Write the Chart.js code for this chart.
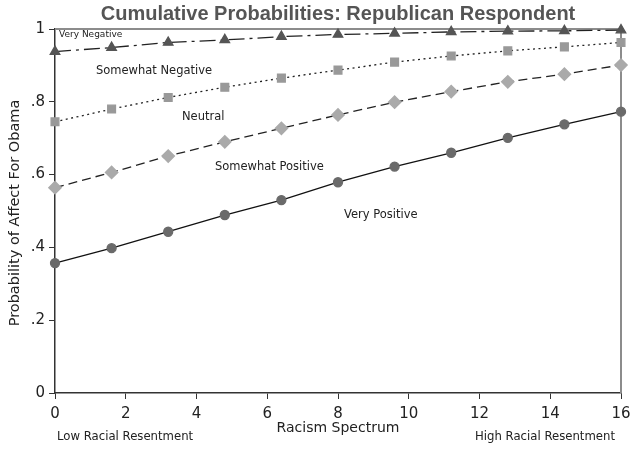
<!DOCTYPE html>
<html>
<head>
<meta charset="utf-8">
<script src="https://cdn.jsdelivr.net/npm/chart.js@4.4.0/dist/chart.umd.min.js"></script>
<style>
  html, body { margin: 0; padding: 0; background: #fff; }
  #wrap { width: 630px; height: 449px; }
</style>
</head>
<body>
<div id="wrap"><canvas id="probChart" width="630" height="449"></canvas></div>
<script>
// x positions along the racism spectrum
var racismSpectrum = [0, 1.6, 3.2, 4.8, 6.4, 8, 9.6, 11.2, 12.8, 14.4, 16];

// cumulative probabilities
var veryNegative     = [0.938, 0.949, 0.963, 0.970, 0.979, 0.985, 0.988, 0.992, 0.994, 0.995, 0.997];
var somewhatNegative = [0.745, 0.780, 0.812, 0.840, 0.865, 0.887, 0.909, 0.926, 0.940, 0.951, 0.963];
var neutral          = [0.564, 0.606, 0.651, 0.690, 0.727, 0.764, 0.799, 0.828, 0.855, 0.876, 0.901];
var somewhatPositive = [0.357, 0.398, 0.443, 0.489, 0.530, 0.579, 0.622, 0.660, 0.701, 0.738, 0.773];

var xTicks = [0, 2, 4, 6, 8, 10, 12, 14, 16];
var yTicks = [0, 0.2, 0.4, 0.6, 0.8, 1];

function toPoints(values) {
    return values.map(function (v, i) { return { x: racismSpectrum[i], y: v }; });
}

function fmtProb(v) {
    let s = String(Math.round(v * 10) / 10);
    return s.replace(/^0\./, '.');
}

// titles, curve labels and the grey frame on top / right
var annotations = {
    id: 'annotations',
    beforeDatasetsDraw: function (chart) {
        let ctx = chart.ctx;
        let a = chart.chartArea;
        ctx.save();
        ctx.strokeStyle = '#8c8c8c';
        ctx.lineWidth = 2;
        ctx.beginPath();
        ctx.moveTo(a.left, a.top);
        ctx.lineTo(a.right, a.top);
        ctx.lineTo(a.right, a.bottom);
        ctx.stroke();
        ctx.restore();
    },
    afterDraw: function (chart) {
        let ctx = chart.ctx;
        let a = chart.chartArea;
        let cx = (a.left + a.right) / 2;
        ctx.save();
        ctx.textBaseline = 'middle';

        ctx.fillStyle = '#555';
        ctx.font = 'bold 20px "Liberation Sans", Arial, sans-serif';
        ctx.textAlign = 'center';
        ctx.fillText('Cumulative Probabilities: Republican Respondent', cx, 14);

        ctx.fillStyle = '#222';
        ctx.font = '14px "DejaVu Sans", sans-serif';
        ctx.fillText('Racism Spectrum', cx, 428);

        ctx.save();
        ctx.translate(15, (a.top + a.bottom) / 2 + 2);
        ctx.rotate(-Math.PI / 2);
        ctx.font = '14.5px "DejaVu Sans", sans-serif';
        ctx.fillText('Probability of Affect For Obama', 0, 0);
        ctx.restore();

        ctx.textAlign = 'left';
        ctx.font = '11.7px "DejaVu Sans", sans-serif';
        ctx.fillText('Low Racial Resentment', 57, 437);
        ctx.fillText('High Racial Resentment', 475, 437);

        ctx.font = '11.5px "DejaVu Sans", sans-serif';
        ctx.fillText('Somewhat Negative', 96, 71);
        ctx.fillText('Neutral', 182, 117);
        ctx.fillText('Somewhat Positive', 215, 167);
        ctx.fillText('Very Positive', 344, 215);

        ctx.font = '9px "DejaVu Sans", sans-serif';
        ctx.fillText('Very Negative', 59, 35);
        ctx.restore();
    }
};

var ctx = document.getElementById('probChart').getContext('2d');

var probChart = new Chart(ctx, {
    type: 'line',
    data: {
        datasets: [
            {
                label: 'Very Negative',
                data: toPoints(veryNegative),
                borderColor: '#222',
                borderWidth: 1.3,
                borderDash: [16, 5, 3, 5],
                pointStyle: 'triangle',
                pointRadius: 5.5,
                pointBackgroundColor: '#555',
                pointBorderColor: '#555',
                clip: false
            },
            {
                label: 'Somewhat Negative',
                data: toPoints(somewhatNegative),
                borderColor: '#222',
                borderWidth: 1.3,
                borderDash: [2, 3.5],
                pointStyle: 'rect',
                pointRadius: 5.5,
                pointBackgroundColor: '#999',
                pointBorderColor: '#999',
                clip: false
            },
            {
                label: 'Neutral',
                data: toPoints(neutral),
                borderColor: '#222',
                borderWidth: 1.3,
                borderDash: [9, 5],
                pointStyle: 'rectRot',
                pointRadius: 6.2,
                pointBackgroundColor: '#aaa',
                pointBorderColor: '#aaa',
                clip: false
            },
            {
                label: 'Very Positive',
                data: toPoints(somewhatPositive),
                borderColor: '#111',
                borderWidth: 1.3,
                pointStyle: 'circle',
                pointRadius: 4.5,
                pointBackgroundColor: '#6a6a6a',
                pointBorderColor: '#6a6a6a',
                clip: false
            }
        ]
    },
    options: {
        responsive: false,
        animation: false,
        layout: { padding: { top: 29, right: 9, left: 0, bottom: 0 } },
        plugins: {
            legend: { display: false },
            tooltip: { enabled: false },
            title: { display: false }
        },
        elements: { line: { tension: 0, fill: false } },
        scales: {
            x: {
                type: 'linear',
                min: 0,
                max: 16,
                afterBuildTicks: function (scale) {
                    scale.ticks = xTicks.map(function (v) { return { value: v }; });
                },
                afterFit: function (scale) {
                    scale.height = 56;
                    scale.paddingLeft = 0;
                    scale.paddingRight = 0;
                },
                border: { color: '#333', width: 1.5 },
                grid: { drawOnChartArea: false, drawTicks: true, tickLength: 6, color: '#333' },
                ticks: {
                    color: '#222',
                    font: { family: '"DejaVu Sans", sans-serif', size: 15 },
                    padding: 6,
                    maxRotation: 0,
                    autoSkip: false
                }
            },
            y: {
                type: 'linear',
                min: 0,
                max: 1,
                afterBuildTicks: function (scale) {
                    scale.ticks = yTicks.map(function (v) { return { value: v }; });
                },
                afterFit: function (scale) {
                    scale.width = 55;
                    scale.paddingTop = 0;
                    scale.paddingBottom = 0;
                },
                border: { color: '#333', width: 1.5 },
                grid: { drawOnChartArea: false, drawTicks: true, tickLength: 6, color: '#333' },
                ticks: {
                    color: '#222',
                    font: { family: '"DejaVu Sans", sans-serif', size: 15 },
                    padding: 4,
                    autoSkip: false,
                    callback: function (v) { return fmtProb(v); }
                }
            }
        }
    },
    plugins: [annotations]
});
</script>
</body>
</html>
